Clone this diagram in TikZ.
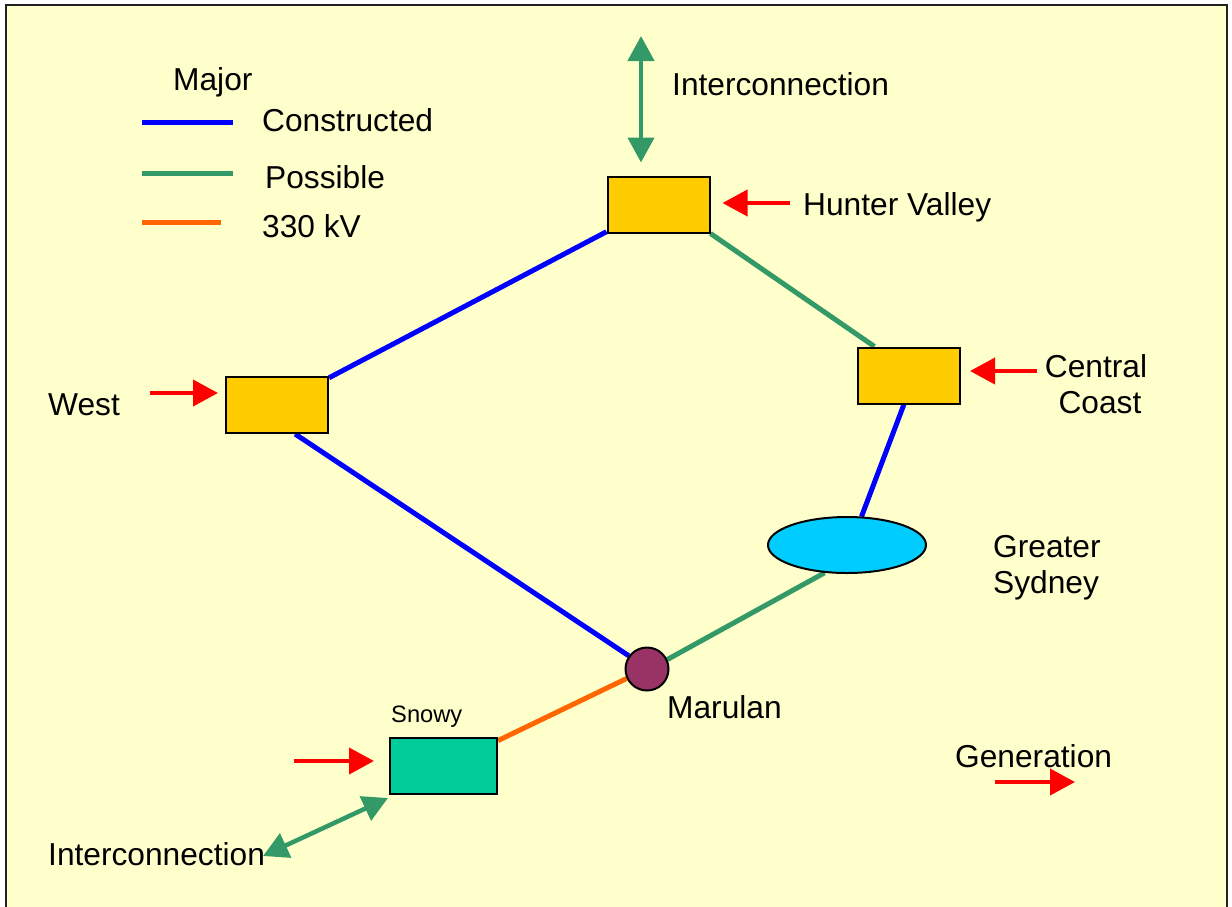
\documentclass[tikz,border=0pt]{standalone}
\usepackage{fontspec}
\setmainfont{Liberation Sans}
\usetikzlibrary{arrows.meta,shapes.geometric}
\definecolor{paper}{HTML}{FFFFCC}
\definecolor{frame}{HTML}{222222}
\definecolor{boxyellow}{HTML}{FFCC00}
\definecolor{snowyfill}{HTML}{00CC99}
\definecolor{sydneyfill}{HTML}{00CCFF}
\definecolor{marulanfill}{HTML}{993366}
\definecolor{lineblue}{HTML}{0000FF}
\definecolor{linegreen}{HTML}{339966}
\definecolor{lineorange}{HTML}{FF6600}
\pgfdeclarelayer{bg}
\pgfsetlayers{bg,main}
\tikzset{
  lbl/.style={anchor=base west, inner sep=0pt, font=\fontsize{31.7pt}{38pt}\selectfont},
  lblc/.style={anchor=base, inner sep=0pt, font=\fontsize{31.7pt}{38pt}\selectfont},
  small/.style={anchor=base west, inner sep=0pt, font=\fontsize{23.7pt}{28pt}\selectfont},
  station/.style={draw=black, line width=2pt, rectangle, minimum width=102pt,
    minimum height=56pt, inner sep=0pt, fill=boxyellow},
  major/.style={line width=5pt, draw=lineblue},
  possible/.style={line width=5pt, draw=linegreen},
  kv/.style={line width=5pt, draw=lineorange},
  gen/.style={draw=red, line width=4pt, -{Triangle[length=25pt,width=26pt]}},
  inter/.style={draw=linegreen, line width=4.5pt,
    {Triangle[length=25pt,width=26pt]}-{Triangle[length=25pt,width=26pt]}},
}
\begin{document}
\begin{tikzpicture}[x=1pt,y=-1pt]
\useasboundingbox (0,0) rectangle (1232,906);

% stations
\node[station] (hv) at (658.5,204.5) {};
\node[station] (cc) at (909,375.5) {};
\node[station] (west) at (277,405) {};
\node[station, fill=snowyfill, minimum width=107pt] (snowy) at (443.5,766) {};
\node[ellipse, draw=black, line width=2pt, fill=sydneyfill, minimum width=158pt,
  minimum height=56pt, inner sep=0pt] (gs) at (847,545) {};
\node[circle, draw=black, line width=2pt, fill=marulanfill, minimum size=43pt,
  inner sep=0pt] (mar) at (647,669) {};

% labels
\node[lbl] (tmajor) at (173,90) {Major};
\node[lbl] (tcons) at (262,131) {Constructed};
\node[lbl] (tposs) at (265,188) {Possible};
\node[lbl] (tkv) at (262,237) {330 kV};
\node[lbl] (tinter) at (672,95) {Interconnection};
\node[lbl] (thv) at (803,215) {Hunter Valley};
\node[lblc] (tcentral) at (1096,377) {Central};
\node[lblc] (tcoast) at (1100,413) {Coast};
\node[lbl] (twest) at (48,415) {West};
\node[lbl] (tgreater) at (993,557) {Greater};
\node[lbl] (tsydney) at (993,593) {Sydney};
\node[lbl] (tmarulan) at (667,718) {Marulan};
\node[small] (tsnowy) at (391,722.5) {Snowy};
\node[lbl] (tgen) at (955,767) {Generation};
\node[lbl] (tinterb) at (48,865) {Interconnection};

% free ends of arrows and legend samples
\coordinate (legA1) at (142,122); \coordinate (legA2) at (233,122);
\coordinate (legB1) at (142,173); \coordinate (legB2) at (233,173);
\coordinate (legC1) at (142,222); \coordinate (legC2) at (221,222);
\coordinate (hvgen) at (790,203);
\coordinate (ccgen) at (1037,371);
\coordinate (westgen) at (150,393);
\coordinate (snowygen) at (294,761);
\coordinate (keygen1) at (995,782); \coordinate (keygen2) at (1075,782);
\coordinate (ictop) at (641,36);
\coordinate (icbot) at (263,856);

\begin{pgfonlayer}{bg}
  \fill[white] (0,0) rectangle (1232,906);
  \draw[frame, line width=2.5pt, fill=paper] (6,5) rectangle (1227,920);
  % network
  \draw[major] (hv) -- (west);
  \draw[major] (west.-58) -- (mar.144);
  \draw[major] (cc.-100) -- (gs.63);
  \draw[possible] (hv.south east) -- (cc.140);
  \draw[possible] (gs.-129) -- (mar.25);
  \draw[kv] (mar.205) -- (snowy.25);
  % legend
  \draw[major] (legA1) -- (legA2);
  \draw[possible] (legB1) -- (legB2);
  \draw[kv] (legC1) -- (legC2);
\end{pgfonlayer}

% generation arrows
\draw[gen] (hvgen) -- ([xshift=12pt]hv.east |- hvgen);
\draw[gen] (ccgen) -- ([xshift=9pt]cc.east |- ccgen);
\draw[gen] (westgen) -- ([xshift=-7pt]west.west |- westgen);
\draw[gen] (snowygen) -- ([xshift=-15pt]snowy.west |- snowygen);
\draw[gen] (keygen1) -- (keygen2);

% interconnections
\draw[inter] (ictop) -- ([yshift=13pt]hv.north -| ictop);
\draw[inter] (icbot) -- ([shift={(-1pt,-3pt)}]snowy.south west);
\end{tikzpicture}
\end{document}
